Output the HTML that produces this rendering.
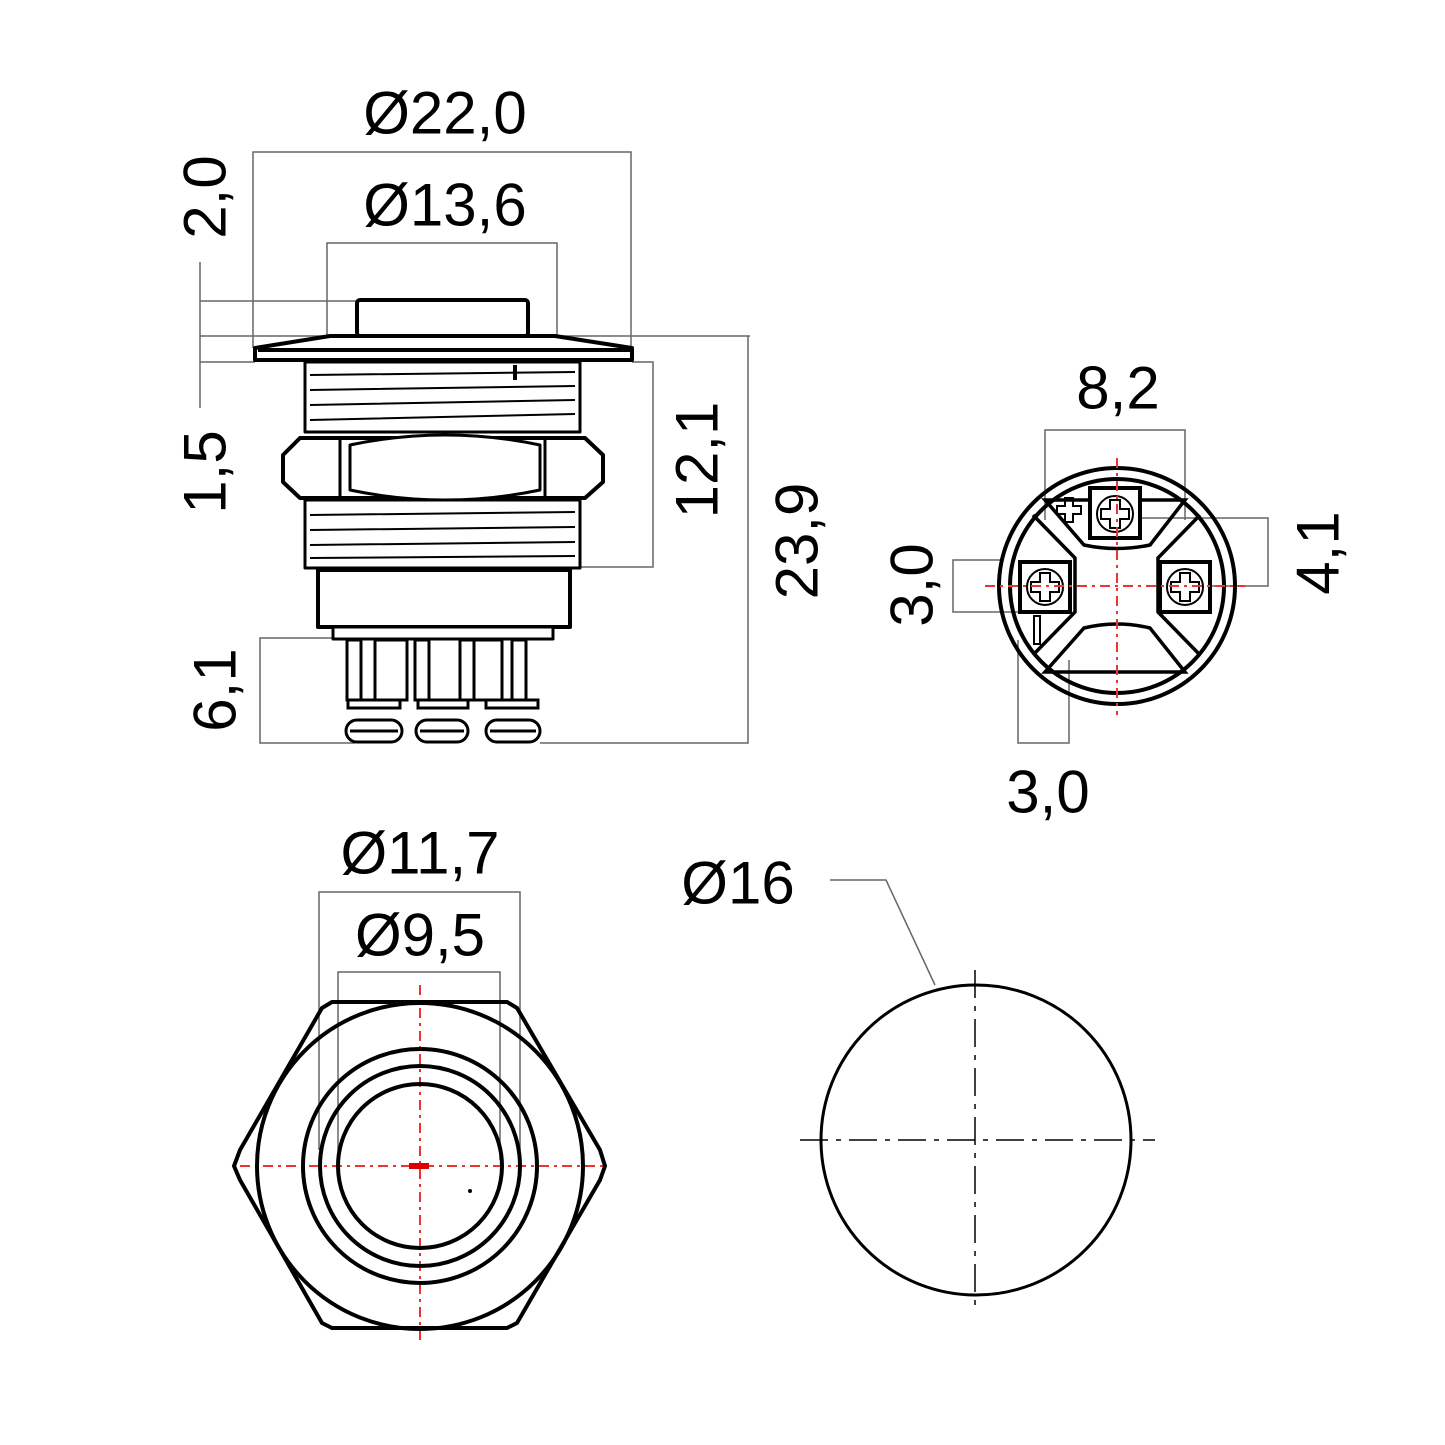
<!DOCTYPE html>
<html><head><meta charset="utf-8"><style>html,body{margin:0;padding:0;background:#fff}svg{display:block}</style></head>
<body>
<svg width="1445" height="1445" viewBox="0 0 1445 1445" xmlns="http://www.w3.org/2000/svg" font-family="Liberation Sans, sans-serif">
<rect width="1445" height="1445" fill="#fff"/>
<g fill="#000" font-size="60" text-anchor="middle" dominant-baseline="central">
<text x="445" y="113">Ø22,0</text>
<text x="445" y="205">Ø13,6</text>
<text x="1118" y="388">8,2</text>
<text x="1048" y="792">3,0</text>
<text x="420" y="853">Ø11,7</text>
<text x="420" y="935">Ø9,5</text>
<text x="738" y="883">Ø16</text>
<text transform="translate(205,197) rotate(-90)">2,0</text>
<text transform="translate(205,472) rotate(-90)">1,5</text>
<text transform="translate(215,690) rotate(-90)">6,1</text>
<text transform="translate(697,460) rotate(-90)">12,1</text>
<text transform="translate(797,541) rotate(-90)">23,9</text>
<text transform="translate(912,585) rotate(-90)">3,0</text>
<text transform="translate(1318,553) rotate(-90)">4,1</text>
</g>
<!-- dimension lines -->
<g fill="none" stroke="#666" stroke-width="1.5">
<polyline points="253,348 253,152 631,152 631,348"/>
<polyline points="327,336 327,243 557,243 557,336"/>
<line x1="200" y1="262" x2="200" y2="408"/>
<line x1="200" y1="301" x2="357" y2="301"/>
<line x1="200" y1="336" x2="750" y2="336"/>
<line x1="200" y1="362" x2="255" y2="362"/>
<polyline points="632,362 653,362 653,567 580,567"/>
<polyline points="748,336 748,743 540,743"/>
<polyline points="345,638 260,638 260,743 355,743"/>
<polyline points="1045,520 1045,430 1185,430 1185,520"/>
<polyline points="1120,518 1268,518 1268,586 1210,586"/>
<polyline points="1000,560 953,560 953,612 1020,612"/>
<polyline points="1018,640 1018,743 1069,743 1069,660"/>
<polyline points="319,1150 319,892 520,892 520,1150"/>
<polyline points="338,1160 338,972 500,972 500,1160"/>
<polyline points="830,880 886,880 935,985"/>
</g>
<!-- side view -->
<g fill="#fff" stroke="#000" stroke-width="4" stroke-linejoin="round">
<rect x="357" y="300" width="171" height="36" rx="3"/>
<polygon points="330,336 555,336 632,348 632,360 255,360 255,348"/>
<line x1="258" y1="350" x2="630" y2="350"/>
<rect x="305" y="362" width="275" height="70" stroke-width="3"/>
<rect x="305" y="500" width="275" height="68" stroke-width="3"/>
<polygon points="300,438 585,438 603,455 603,482 585,498 300,498 283,482 283,455"/>
<line x1="340" y1="440" x2="340" y2="496" stroke-width="3"/>
<line x1="545" y1="440" x2="545" y2="496" stroke-width="3"/>
<path d="M350,445 Q445,425 540,445 L540,490 Q445,510 350,490 Z" stroke-width="3"/>
<rect x="318" y="570" width="252" height="57"/>
<rect x="333" y="627" width="220" height="12" stroke-width="3"/>
</g>
<g stroke="#000" stroke-width="2" fill="none">
<path d="M310,375 L575,372 M310,390 L575,386 M310,405 L575,400 M310,420 L575,414"/>
<path d="M310,515 L575,512 M310,530 L575,527 M310,545 L575,542 M310,558 L575,556"/>
<line x1="515" y1="365" x2="515" y2="380" stroke-width="4"/>
</g>
<g stroke="#000" stroke-width="3" fill="#fff">
<rect x="347" y="640" width="14" height="60"/><rect x="375" y="640" width="32" height="60"/>
<rect x="415" y="640" width="14" height="60"/><rect x="460" y="640" width="14" height="60"/>
<rect x="474" y="640" width="28" height="60"/><rect x="512" y="640" width="14" height="60"/>
<rect x="348" y="700" width="52" height="8"/><rect x="418" y="700" width="50" height="8"/><rect x="486" y="700" width="52" height="8"/>
<rect x="346" y="720" width="56" height="22" rx="11"/><rect x="416" y="720" width="52" height="22" rx="11"/><rect x="486" y="720" width="54" height="22" rx="11"/>
<line x1="350" y1="731" x2="398" y2="731"/><line x1="420" y1="731" x2="464" y2="731"/><line x1="490" y1="731" x2="536" y2="731"/>
</g>
<!-- terminal view -->
<g stroke="#000" stroke-width="4" fill="none">
<circle cx="1117" cy="586" r="118"/>
<circle cx="1117" cy="586" r="107"/>
<path d="M1045,500 L1185,500 L1150,545 Q1117,552 1084,545 Z" stroke-width="3.5"/>
<path d="M1045,672 L1185,672 L1150,628 Q1117,620 1084,628 Z" stroke-width="3.5"/>
<path d="M1033,515 L1075,558 L1075,612 L1033,655" stroke-width="3.5"/>
<path d="M1200,515 L1158,558 L1158,612 L1200,655" stroke-width="3.5"/>
<rect x="1090" y="488" width="50" height="50" fill="#fff"/>
<rect x="1020" y="562" width="50" height="50" fill="#fff"/>
<rect x="1160" y="562" width="50" height="50" fill="#fff"/>
<g stroke-width="2"><circle cx="1115" cy="514" r="18"/><circle cx="1045" cy="587" r="18"/><circle cx="1185" cy="587" r="18"/>
<path d="M1110,500 h10 v9 h9 v10 h-9 v9 h-10 v-9 h-9 v-10 h9z"/>
<path d="M1040,573 h10 v9 h9 v10 h-9 v9 h-10 v-9 h-9 v-10 h9z"/>
<path d="M1180,573 h10 v9 h9 v10 h-9 v9 h-10 v-9 h-9 v-10 h9z"/>
<path d="M1065,498 h8 v8 h8 v8 h-8 v8 h-8 v-8 h-8 v-8 h8z"/>
<rect x="1034" y="616" width="6" height="28"/></g>
</g>
<g stroke="#e33" stroke-width="2" stroke-dasharray="10,5,3,5">
<line x1="1117" y1="458" x2="1117" y2="715"/><line x1="985" y1="586" x2="1245" y2="586"/>
<line x1="420" y1="985" x2="420" y2="1345"/><line x1="240" y1="1166" x2="605" y2="1166"/>
</g>
<!-- hex view -->
<g stroke="#000" stroke-width="4" fill="none">
<polygon points="332,1002 507,1002 517,1008 600,1150 605,1166 600,1180 517,1323 507,1328 332,1328 322,1323 240,1180 234,1166 240,1150 322,1008"/>
<circle cx="420" cy="1166" r="163"/>
<circle cx="420" cy="1166" r="117"/>
<circle cx="420" cy="1166" r="100"/>
<circle cx="420" cy="1166" r="82"/>
</g>
<rect x="409" y="1163" width="20" height="6" fill="#d00"/>
<circle cx="470" cy="1191" r="2" fill="#000"/>
<!-- circle view -->
<circle cx="976" cy="1140" r="155" fill="none" stroke="#000" stroke-width="3"/>
<g stroke="#000" stroke-width="1.5" stroke-dasharray="28,8,5,8">
<line x1="975" y1="970" x2="975" y2="1312"/><line x1="800" y1="1140" x2="1155" y2="1140"/>
</g>
</svg>
</body></html>
